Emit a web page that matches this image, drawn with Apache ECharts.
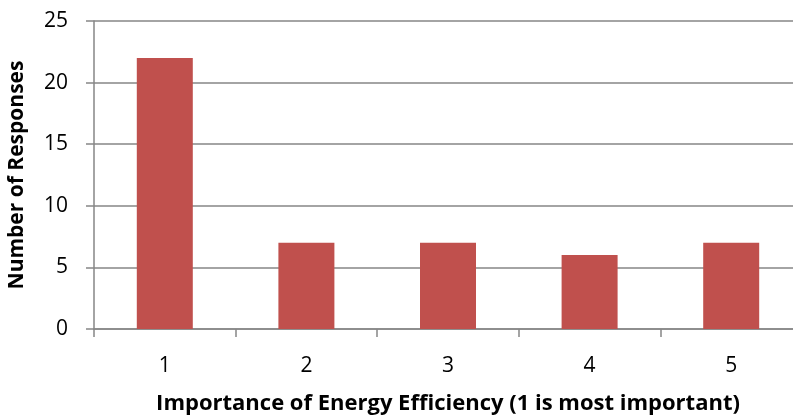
<!DOCTYPE html>
<html>
<head>
<meta charset="utf-8">
<script src="https://cdn.jsdelivr.net/npm/echarts@6/dist/echarts.min.js"></script>
<style>
  html, body { margin: 0; padding: 0; background: #fff; }
  #chart { width: 793px; height: 416px; }
</style>
</head>
<body>
<div id="chart"></div>
<script>
// Survey responses by importance rating
const categories = ['1', '2', '3', '4', '5'];
const responses = [22, 7, 7, 6, 7];
const yTicks = { min: 0, max: 25, interval: 5 };

const fontFamily = '"Open Sans", "Liberation Sans", sans-serif';
const axisGrey = '#868686';

const chart = echarts.init(document.getElementById('chart'), null, { renderer: 'canvas' });
chart.setOption({
  animation: false,
  grid: { left: 94, right: -9, top: 21, bottom: 87, containLabel: false, outerBoundsMode: 'none' },
  xAxis: {
    type: 'category',
    data: categories,
    name: 'Importance of Energy Efficiency (1 is most important)',
    nameLocation: 'middle',
    nameGap: 64,
    nameTextStyle: { fontFamily, fontSize: 22, fontWeight: 'bold', color: '#000' },
    axisLine: { lineStyle: { color: axisGrey, width: 1.5 } },
    axisTick: { show: true, length: 8, lineStyle: { color: axisGrey, width: 1.5 } },
    axisLabel: { fontFamily, fontSize: 21, color: '#000', margin: 27 }
  },
  yAxis: {
    type: 'value',
    min: yTicks.min,
    max: yTicks.max,
    interval: yTicks.interval,
    name: 'Number of Responses',
    nameLocation: 'middle',
    nameGap: 66,
    nameTextStyle: { fontFamily, fontSize: 21, fontWeight: 'bold', color: '#000' },
    axisLine: { show: true, lineStyle: { color: axisGrey, width: 1.5 } },
    axisTick: { show: true, length: 8, lineStyle: { color: axisGrey, width: 1.5 } },
    splitLine: { lineStyle: { color: axisGrey, width: 1.5 } },
    axisLabel: { fontFamily, fontSize: 21, color: '#000', margin: 26 }
  },
  series: [{
    type: 'bar',
    data: responses,
    barWidth: 56,
    itemStyle: { color: '#C0504D' }
  }]
});
</script>
</body>
</html>
